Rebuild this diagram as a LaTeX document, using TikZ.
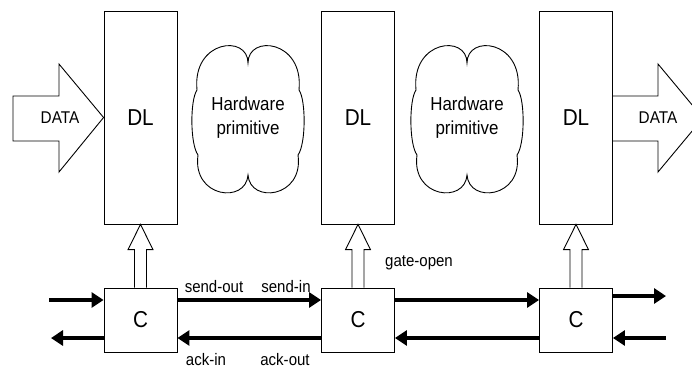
\documentclass[tikz,border=0pt]{standalone}
\usepackage{fontspec}
\setmainfont[FakeStretch=0.9]{Liberation Sans}
\usetikzlibrary{arrows.meta,calc}
\begin{document}
\begin{tikzpicture}[x=1pt,y=-1pt,
  line/.style={draw, line width=0.9pt},
  dlbox/.style={line, minimum width=73pt, minimum height=213pt, inner sep=0pt, font=\fontsize{23}{26}\selectfont},
  cbox/.style={line, minimum width=73pt, minimum height=64pt, inner sep=0pt, font=\fontsize{23}{26}\selectfont},
  sig/.style={line width=3.1pt, -{Triangle[length=12pt,width=15pt]}},
  lbl/.style={font=\fontsize{16.7}{19}\selectfont, inner sep=0pt},
  hwtext/.style={font=\fontsize{18.8}{24}\selectfont, align=center, inner sep=0pt},
  datatext/.style={font=\fontsize{17}{19}\selectfont, inner sep=0pt},
]
\path[use as bounding box] (0,0) rectangle (692,368);

% DL boxes
\node[dlbox] (d1) at (140.5,117.5) {DL};
\node[dlbox] (d2) at (358,117.5) {DL};
\node[dlbox] (d3) at (576,117.5) {DL};

% C boxes
\node[cbox] (c1) at (140.5,320) {C};
\node[cbox] (c2) at (358,320) {C};
\node[cbox] (c3) at (576,320) {C};

% hollow arrows C -> DL
\foreach \c/\d in {c1/d1,c2/d2,c3/d3}{
  \draw[line, fill=white] ($(\c.north)+(-6,0)$) -- ($(\c.north)+(-6,-38)$)
    -- ($(\c.north)+(-12.5,-38)$) -- (\d.south) -- ($(\c.north)+(12.5,-38)$)
    -- ($(\c.north)+(6,-38)$) -- ($(\c.north)+(6,0)$);
}

% clouds
\foreach \cx in {248,467}{
  \draw[line, shift={(\cx,118)}] (0,-55) .. controls (0,-84) and (56,-78) .. (51,-28)
    .. controls (58,-18) and (58,26) .. (50,37)
    .. controls (56,80) and (2,86) .. (0,57)
    .. controls (-2,86) and (-56,80) .. (-50,37)
    .. controls (-58,26) and (-58,-18) .. (-51,-28)
    .. controls (-56,-78) and (0,-84) .. (0,-55) -- cycle;
}
\node[hwtext] (hw1) at (248,118) {Hardware\\primitive};
\node[hwtext] (hw2) at (467,118) {Hardware\\primitive};

% DATA arrows
\draw[line] (13,96) -- (59,96) -- (59,64) -- (d1.west) -- (59,172) -- (59,141) -- (13,141) -- cycle;
\node[datatext] (datain) at (60,118) {DATA};
\begin{scope}
\clip (0,0) rectangle (692,368);
\draw[line] (d3.east |- 0,96) -- (658,96) -- (658,64) -- (703,118) -- (658,172) -- (658,141) -- (d3.east |- 0,141);
\end{scope}
\node[datatext] (dataout) at (658,118) {DATA};

% signal arrows
\coordinate (inL) at (49,300);
\coordinate (outL) at (51,338);
\coordinate (outR) at (666,296);
\coordinate (inR) at (666,338);
\draw[sig] (inL) -- (inL -| c1.west);
\draw[sig] ([yshift=20pt]c1.east) -- ([yshift=20pt]c2.west);
\draw[sig] ([yshift=20pt]c2.east) -- ([yshift=20pt]c3.west);
\draw[sig] (outR -| c3.east) -- (outR);
\draw[sig] (inR) -- (inR -| c3.east);
\draw[sig] ([yshift=-18pt]c3.west) -- ([yshift=-18pt]c2.east);
\draw[sig] ([yshift=-18pt]c2.west) -- ([yshift=-18pt]c1.east);
\draw[sig] ([yshift=-18pt]c1.west) -- (outL);

% labels
\node[lbl] (so) at (214,287) {send-out};
\node[lbl] (si) at (286,287) {send-in};
\node[lbl] (ai) at (206,360) {ack-in};
\node[lbl] (ao) at (285,360) {ack-out};
\node[lbl] (go) at (419,263) {gate-open};
\end{tikzpicture}
\end{document}
